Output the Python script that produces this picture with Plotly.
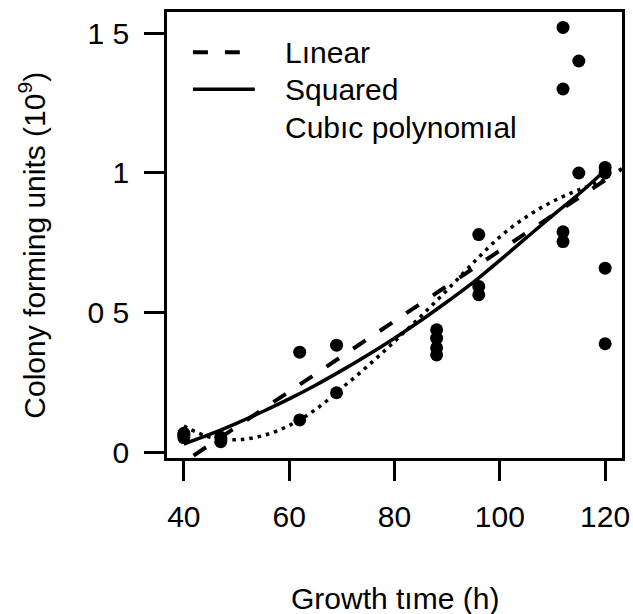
import plotly.graph_objects as go

# Observed colony counts by growth time
growth_h = [40, 40, 40, 47, 47, 62, 62, 69, 69, 88, 88, 88, 88,
            96, 96, 96, 112, 112, 112, 112, 115, 115, 120, 120, 120, 120]
cfu_1e9 = [0.07, 0.063, 0.055, 0.04, 0.056, 0.36, 0.118, 0.385, 0.215,
           0.44, 0.41, 0.375, 0.35, 0.78, 0.595, 0.565,
           1.52, 1.30, 0.79, 0.755, 1.40, 1.00, 1.02, 1.00, 0.66, 0.39]

# Fitted curves
lin_x = [36.8, 123.2]
lin_y = [-0.073, 1.015]

fit_x = [40, 45, 50, 55, 60, 65, 70, 75, 80, 85, 90, 95, 100, 105, 110, 115, 120]
sq_y = [0.032, 0.067, 0.106, 0.148, 0.193, 0.242, 0.295, 0.351, 0.41, 0.473,
        0.54, 0.61, 0.688, 0.768, 0.848, 0.925, 1.01]
cub_y = [0.096, 0.056, 0.047, 0.062, 0.098, 0.155, 0.232, 0.312, 0.398, 0.488,
         0.582, 0.68, 0.772, 0.843, 0.898, 0.94, 0.975]

x_ticks = [40, 60, 80, 100, 120]
y_ticks = [0, 0.5, 1, 1.5]
y_tick_text = ["0", "0 5", "1", "1 5"]

legend_labels = ["Lınear", "Squared", "Cubıc polynomıal"]

FONT = "Liberation Sans, Arial, sans-serif"
INK = "black"

fig = go.Figure()
fig.add_trace(go.Scatter(x=lin_x, y=lin_y, mode="lines",
                         line=dict(color=INK, width=4, dash="15px,17px"),
                         showlegend=False))
fig.add_trace(go.Scatter(x=fit_x, y=sq_y, mode="lines", line_shape="spline",
                         line=dict(color=INK, width=3.5), showlegend=False))
fig.add_trace(go.Scatter(x=fit_x, y=cub_y, mode="lines", line_shape="spline",
                         line=dict(color=INK, width=3.5, dash="3.5px,5px"),
                         showlegend=False))
fig.add_trace(go.Scatter(x=growth_h, y=cfu_1e9, mode="markers",
                         marker=dict(color=INK, size=13), showlegend=False,
                         cliponaxis=False))

# Hand-drawn key in the upper left of the panel
key_rows = [0.910, 0.827, 0.742]
fig.add_shape(type="line", xref="paper", yref="paper", x0=0.057, x1=0.160,
              y0=key_rows[0], y1=key_rows[0],
              line=dict(color=INK, width=4, dash="15px,17px"))
fig.add_shape(type="line", xref="paper", yref="paper", x0=0.057, x1=0.193,
              y0=key_rows[1], y1=key_rows[1],
              line=dict(color=INK, width=3.5))
for label, yy in zip(legend_labels, key_rows):
    fig.add_annotation(text=label, xref="paper", yref="paper", x=0.256, y=yy,
                       xanchor="left", yanchor="middle", showarrow=False,
                       font=dict(family=FONT, size=30, color=INK))

# Axis titles
fig.add_annotation(text="Growth tıme (h)", xref="paper", yref="paper",
                   x=0.5, y=-0.316, xanchor="center", yanchor="middle",
                   showarrow=False, font=dict(family=FONT, size=30, color=INK))
fig.add_annotation(text="Colony forming units (10<sup>9</sup>)", xref="paper",
                   yref="paper", x=-0.297, y=0.478, xanchor="center",
                   yanchor="middle", textangle=-90, showarrow=False,
                   font=dict(family=FONT, size=30, color=INK))

axis_common = dict(showgrid=False, zeroline=False, showline=True, mirror=True,
                   linecolor=INK, linewidth=2.5, ticks="outside", ticklen=20,
                   tickwidth=2.5, tickcolor=INK,
                   tickfont=dict(family=FONT, size=30, color=INK))
fig.update_xaxes(range=[36.8, 123.2], tickvals=x_ticks, ticklabelstandoff=10,
                 **axis_common)
fig.update_yaxes(range=[-0.018, 1.575], tickvals=y_ticks, ticktext=y_tick_text,
                 ticklabelstandoff=9, **axis_common)

fig.update_layout(width=633, height=614, plot_bgcolor="white",
                  paper_bgcolor="white",
                  margin=dict(l=167, r=11, t=12, b=156, autoexpand=False),
                  font=dict(family=FONT, color=INK))

fig.write_html("out.html")
